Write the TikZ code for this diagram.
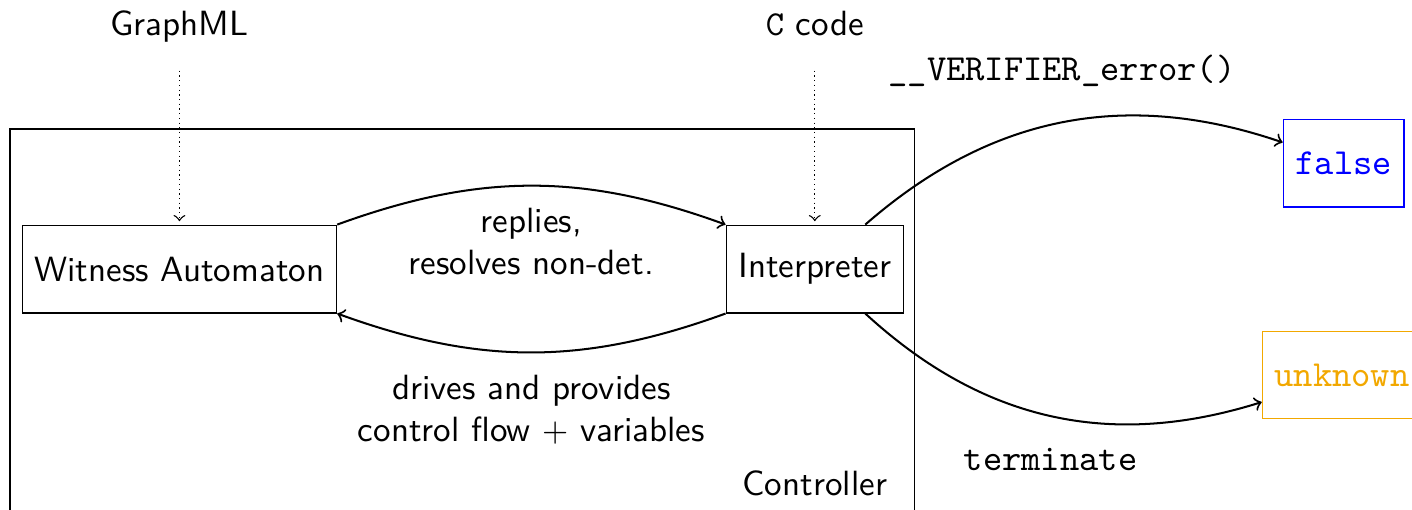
\documentclass[tikz,border=0pt]{standalone}
\usepackage{amsmath, amssymb}
\usepackage{tikz}
\usetikzlibrary{arrows}
\usetikzlibrary{calc}
\usetikzlibrary{positioning}
\definecolor{unknowncol}{RGB}{242,168,0}

\begin{document}
\begin{tikzpicture}[
  > = to,
  every node/.style = {font=\sffamily\fontsize{10.4}{12.5}\selectfont},
  code/.style = {font=\ttfamily\fontsize{10.9}{13}\selectfont},
  box/.style = {draw, minimum height=26pt, inner xsep=3.6pt},
  input/.style = {text height=7pt, text depth=2pt},
  feed/.style = {->, densely dotted, shorten <=5pt, shorten >=1pt},
  flow/.style = {->, semithick}
  ]
	\useasboundingbox (0,0) rectangle (14.73,5.32);

	% controller frame, runs off the bottom edge
	\draw (0.104,-0.5) rectangle (9.543,3.973);
	\node (ctrl) at (8.50,0.28) {Controller};

	\node[box] (witness) at (1.872,2.513) {Witness Automaton};
	\node[box] (interp) at (8.50,2.513) {Interpreter};

	\node[input] (graphml) at (1.872,5.041) {GraphML};
	\node[input] (ccode) at (8.50,5.041) {\texttt{C} code};

	\node[box,code,draw=blue,text=blue] (false) at (14.017,3.619) {false};
	\node[box,code,draw=unknowncol,text=unknowncol] (unknown) at (14.0,1.408) {unknown};

	\draw[feed] (graphml) -- (witness);
	\draw[feed] (ccode) -- (interp);

	\draw[flow] (witness.north east) to[bend left=20]
		node[below=3pt,align=center] {replies,\\resolves non-det.} (interp.north west);
	\draw[flow] (interp.south west) to[bend left=20]
		node[below=3pt,align=center] {drives and provides\\control flow $+$ variables} (witness.south east);

	\draw[flow] (interp) to[bend left=30]
		node[above=7pt,code] {\_\_VERIFIER\_error()} (false);
	\draw[flow] (interp) to[bend right=30]
		node[below=6pt,code] {terminate} (unknown);

\end{tikzpicture}
\end{document}
